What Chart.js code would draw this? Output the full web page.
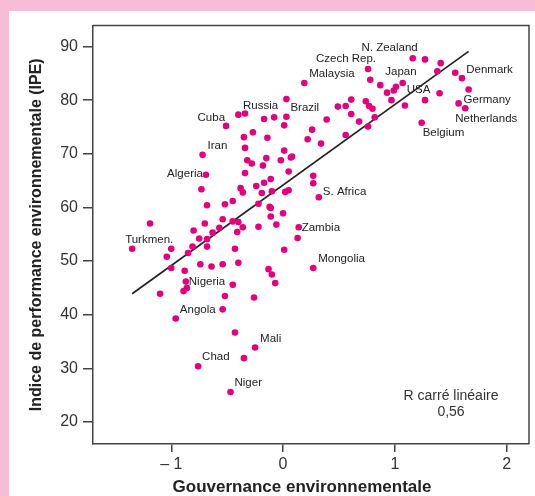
<!DOCTYPE html>
<html lang="fr">
<head>
  <meta charset="UTF-8">
  <title>IPE et gouvernance environnementale</title>
  <script src="https://cdn.jsdelivr.net/npm/chart.js"></script>
  <style>
    html, body {
      margin: 0;
      padding: 0;
      background-color: #f7bcd6;
      overflow: hidden;
    }
    #wrap {
      position: absolute;
      left: 9px;
      top: 11px;
      width: 526px;
      height: 485px;
      background: #fff;
    }
  </style>
</head>
<body>
  <div id="wrap"><canvas id="scatter" width="526" height="485"></canvas></div>

  <script>
    // Gouvernance environnementale (x) and IPE (y), one entry per country
    const govX = [
      0.19, 0.03, -0.40, -0.34, -0.17, -0.08, 0.03, 0.01, -0.51, 0.26,
      -0.27, -0.35, -0.14, 0.22, -0.72, -0.34, 0.01, -0.32, -0.28, -0.15,
      -0.18, -0.02, 0.07, 0.08, 0.05, -0.34, -0.69, -0.11, 0.27, 1.16,
      1.27, 1.41, 0.76, 0.78, 0.87, 1.07, 1.01, 0.99, 0.93, 1.38,
      1.54, 1.60, 1.40, 1.66, 1.27, 0.97, 1.09, 1.57, 1.63, 0.61,
      0.56, 0.49, 0.74, 0.77, 0.80, 0.61, 0.39, 0.68, 0.82, 0.76,
      1.24, 0.34, 0.56, 0.27, -0.73, -0.38, -0.36, -0.24, -0.17, -0.19,
      -0.10, 0.02, 0.05, -0.68, -0.52, -0.45, -0.22, -0.12, -0.11, -0.11,
      0.00, -1.19, -0.70, -0.54, -0.45, -0.40, -0.57, -0.63, -0.36, -0.41,
      -0.22, -0.06, 0.14, 0.13, -0.80, -0.75, -0.68, -0.81, -0.68, -1.35,
      -1.00, -0.85, -1.04, -0.43, 0.01, -1.00, -0.88, -0.74, -0.64, -0.54,
      -0.40, -0.13, -0.10, -0.07, 0.27, -0.87, -0.86, -0.89, -1.10, -0.45,
      -0.52, -0.26, -0.54, -0.96, 0.32, -0.43, -0.25, -0.35, -0.76, -0.47
    ];
    const ipeY = [
      83.2, 80.2, 77.3, 77.5, 76.5, 76.8, 76.9, 75.3, 75.2, 74.5,
      74.0, 73.1, 73.0, 72.7, 69.8, 71.1, 70.6, 68.8, 68.2, 69.2,
      67.8, 68.8, 69.3, 69.5, 66.7, 66.4, 66.1, 65.3, 65.9, 87.8,
      87.6, 86.9, 85.8, 83.8, 82.8, 83.2, 82.5, 81.8, 81.4, 85.4,
      85.1, 84.1, 81.3, 82.0, 80.0, 80.0, 79.0, 79.4, 78.5, 80.1,
      78.9, 78.8, 79.8, 78.9, 78.4, 77.4, 76.4, 76.0, 76.8, 75.1,
      75.8, 71.9, 73.5, 64.5, 63.4, 63.6, 62.8, 64.0, 64.6, 62.7,
      63.0, 62.9, 63.2, 60.4, 60.6, 61.2, 60.7, 60.1, 59.9, 58.3,
      58.9, 57.0, 57.0, 57.8, 57.4, 57.3, 56.2, 55.3, 56.3, 55.4,
      56.4, 56.8, 56.3, 54.3, 55.7, 54.2, 54.1, 52.7, 52.7, 52.3,
      52.3, 51.5, 50.8, 52.3, 52.1, 48.7, 48.2, 49.4, 49.0, 49.4,
      49.7, 48.5, 47.5, 45.9, 48.7, 46.2, 45.0, 44.4, 43.9, 45.6,
      43.5, 43.2, 41.0, 39.3, 61.9, 36.7, 33.9, 31.9, 30.4, 25.6
    ];

    // named countries and the index of their point in govX / ipeY
    const labelNames = ['N. Zealand', 'Czech Rep.', 'Malaysia', 'Japan', 'USA', 'Denmark',
      'Germany', 'Netherlands', 'Belgium', 'Russia', 'Brazil', 'Cuba', 'Iran', 'Algeria',
      'S. Africa', 'Zambia', 'Mongolia', 'Turkmen.', 'Nigeria', 'Angola', 'Mali', 'Chad', 'Niger'];
    const labelPoint = [29, 32, 0, 34, 35, 40, 47, 48, 60, 3, 6, 8, 14, 26,
      124, 92, 114, 99, 115, 122, 126, 128, 129];

    // linear fit line ends
    const fitX = [-1.35, 1.66];
    const fitY = [43.9, 89.1];

    const xTicks = [-1, 0, 1, 2];
    const xTickLabels = ['\u2013 1', '0', '1', '2'];
    const yTicks = [20, 30, 40, 50, 60, 70, 80, 90];
    const xTitle = 'Gouvernance environnementale';
    const rSquared = '0,56';

    // where each country name sits next to its point (px offset, text align)
    const labelLayout = {
      'N. Zealand': [5, -10, 'right'], 'Czech Rep.': [8, -10, 'right'], 'Malaysia': [5, -9, 'left'],
      'Japan': [5, -13, 'left'], 'USA': [4, 7, 'left'], 'Denmark': [11, -3, 'left'],
      'Germany': [5, -4, 'left'], 'Netherlands': [-10, 11, 'left'], 'Belgium': [1, 10, 'left'],
      'Russia': [-2, -8, 'left'], 'Brazil': [4, -9, 'left'], 'Cuba': [-1, -8, 'right'],
      'Iran': [5, -9, 'left'], 'Algeria': [-3, -1, 'right'], 'S. Africa': [4, -5, 'left'],
      'Zambia': [3, 1, 'left'], 'Mongolia': [5, -9, 'left'], 'Turkmen.': [-7, -9, 'left'],
      'Nigeria': [3, 0, 'left'], 'Angola': [-7, 0, 'right'], 'Mali': [5, -9, 'left'],
      'Chad': [4, -9, 'left'], 'Niger': [4, -9, 'left']
    };

    const FONT = '"Liberation Sans", Arial, sans-serif';
    const AXIS = '#444';

    const annotate = {
      id: 'annotate',
      afterDatasetsDraw(chart) {
        const ctx = chart.ctx;
        const a = chart.chartArea;
        const xs = chart.scales.x, ys = chart.scales.y;
        ctx.save();
        // top and right sides of the frame
        ctx.strokeStyle = AXIS;
        ctx.lineWidth = 1.5;
        ctx.beginPath();
        ctx.moveTo(a.left, a.top);
        ctx.lineTo(a.right, a.top);
        ctx.lineTo(a.right, a.bottom);
        ctx.stroke();

        ctx.fillStyle = '#222';
        ctx.font = '11.5px ' + FONT;
        ctx.textBaseline = 'middle';
        labelNames.forEach((name, i) => {
          const p = labelPoint[i];
          const l = labelLayout[name];
          const px = xs.getPixelForValue(govX[p]);
          const py = ys.getPixelForValue(ipeY[p]);
          ctx.textAlign = l[2];
          ctx.fillText(name, px + l[0], py + l[1]);
        });

        ctx.fillStyle = '#333';
        ctx.font = '14px ' + FONT;
        ctx.textAlign = 'center';
        ctx.fillText('R carr\u00e9 lin\u00e9aire', a.right - 78, a.bottom - 48);
        ctx.fillText(rSquared, a.right - 78, a.bottom - 32);

        // x axis title, sits a bit left of the plot centre in the original
        ctx.fillStyle = '#222';
        ctx.font = 'bold 17px ' + FONT;
        ctx.fillText(xTitle, (a.left + a.right) / 2 - 9, chart.height - 9);
        ctx.restore();
      }
    };

    const ctx = document.getElementById('scatter').getContext('2d');
    new Chart(ctx, {
      type: 'scatter',
      data: {
        datasets: [{
          label: 'Pays',
          data: govX.map((x, i) => ({ x: x, y: ipeY[i] })),
          backgroundColor: '#e5007e',
          borderWidth: 0,
          pointRadius: 3.3
        }, {
          type: 'line',
          label: 'Régression',
          data: fitX.map((x, i) => ({ x: x, y: fitY[i] })),
          borderColor: '#222',
          borderWidth: 1.7,
          pointRadius: 0,
          fill: false
        }]
      },
      options: {
        responsive: false,
        animation: false,
        layout: { padding: { top: 14, right: 6, left: 0, bottom: 0 } },
        plugins: {
          legend: { display: false },
          tooltip: { enabled: false }
        },
        scales: {
          x: {
            type: 'linear',
            min: -1.7,
            max: 2.2,
            afterFit(scale) { scale.height = 52; },
            afterBuildTicks(scale) { scale.ticks = xTicks.map(v => ({ value: v })); },
            grid: { drawOnChartArea: false, drawTicks: true, tickLength: 8, color: AXIS, lineWidth: 1.5 },
            border: { display: true, color: AXIS, width: 1.5 },
            ticks: {
              padding: 3,
              color: '#333',
              font: { family: FONT, size: 16 },
              callback: (v) => xTickLabels[xTicks.indexOf(v)]
            }
          },
          y: {
            type: 'linear',
            min: 15.9,
            max: 93.9,
            afterFit(scale) { scale.width = 84; },
            afterBuildTicks(scale) { scale.ticks = yTicks.map(v => ({ value: v })); },
            grid: { drawOnChartArea: false, drawTicks: true, tickLength: 10, color: AXIS, lineWidth: 1.5 },
            border: { display: true, color: AXIS, width: 1.5 },
            ticks: {
              padding: 5,
              color: '#333',
              font: { family: FONT, size: 16 }
            },
            title: {
              display: true,
              text: 'Indice de performance environnementale (IPE)',
              color: '#222',
              font: { family: FONT, size: 16, weight: 'bold', lineHeight: 1.2 },
              padding: { top: 18, bottom: 0 }
            }
          }
        }
      },
      plugins: [annotate]
    });
  </script>
</body>
</html>
